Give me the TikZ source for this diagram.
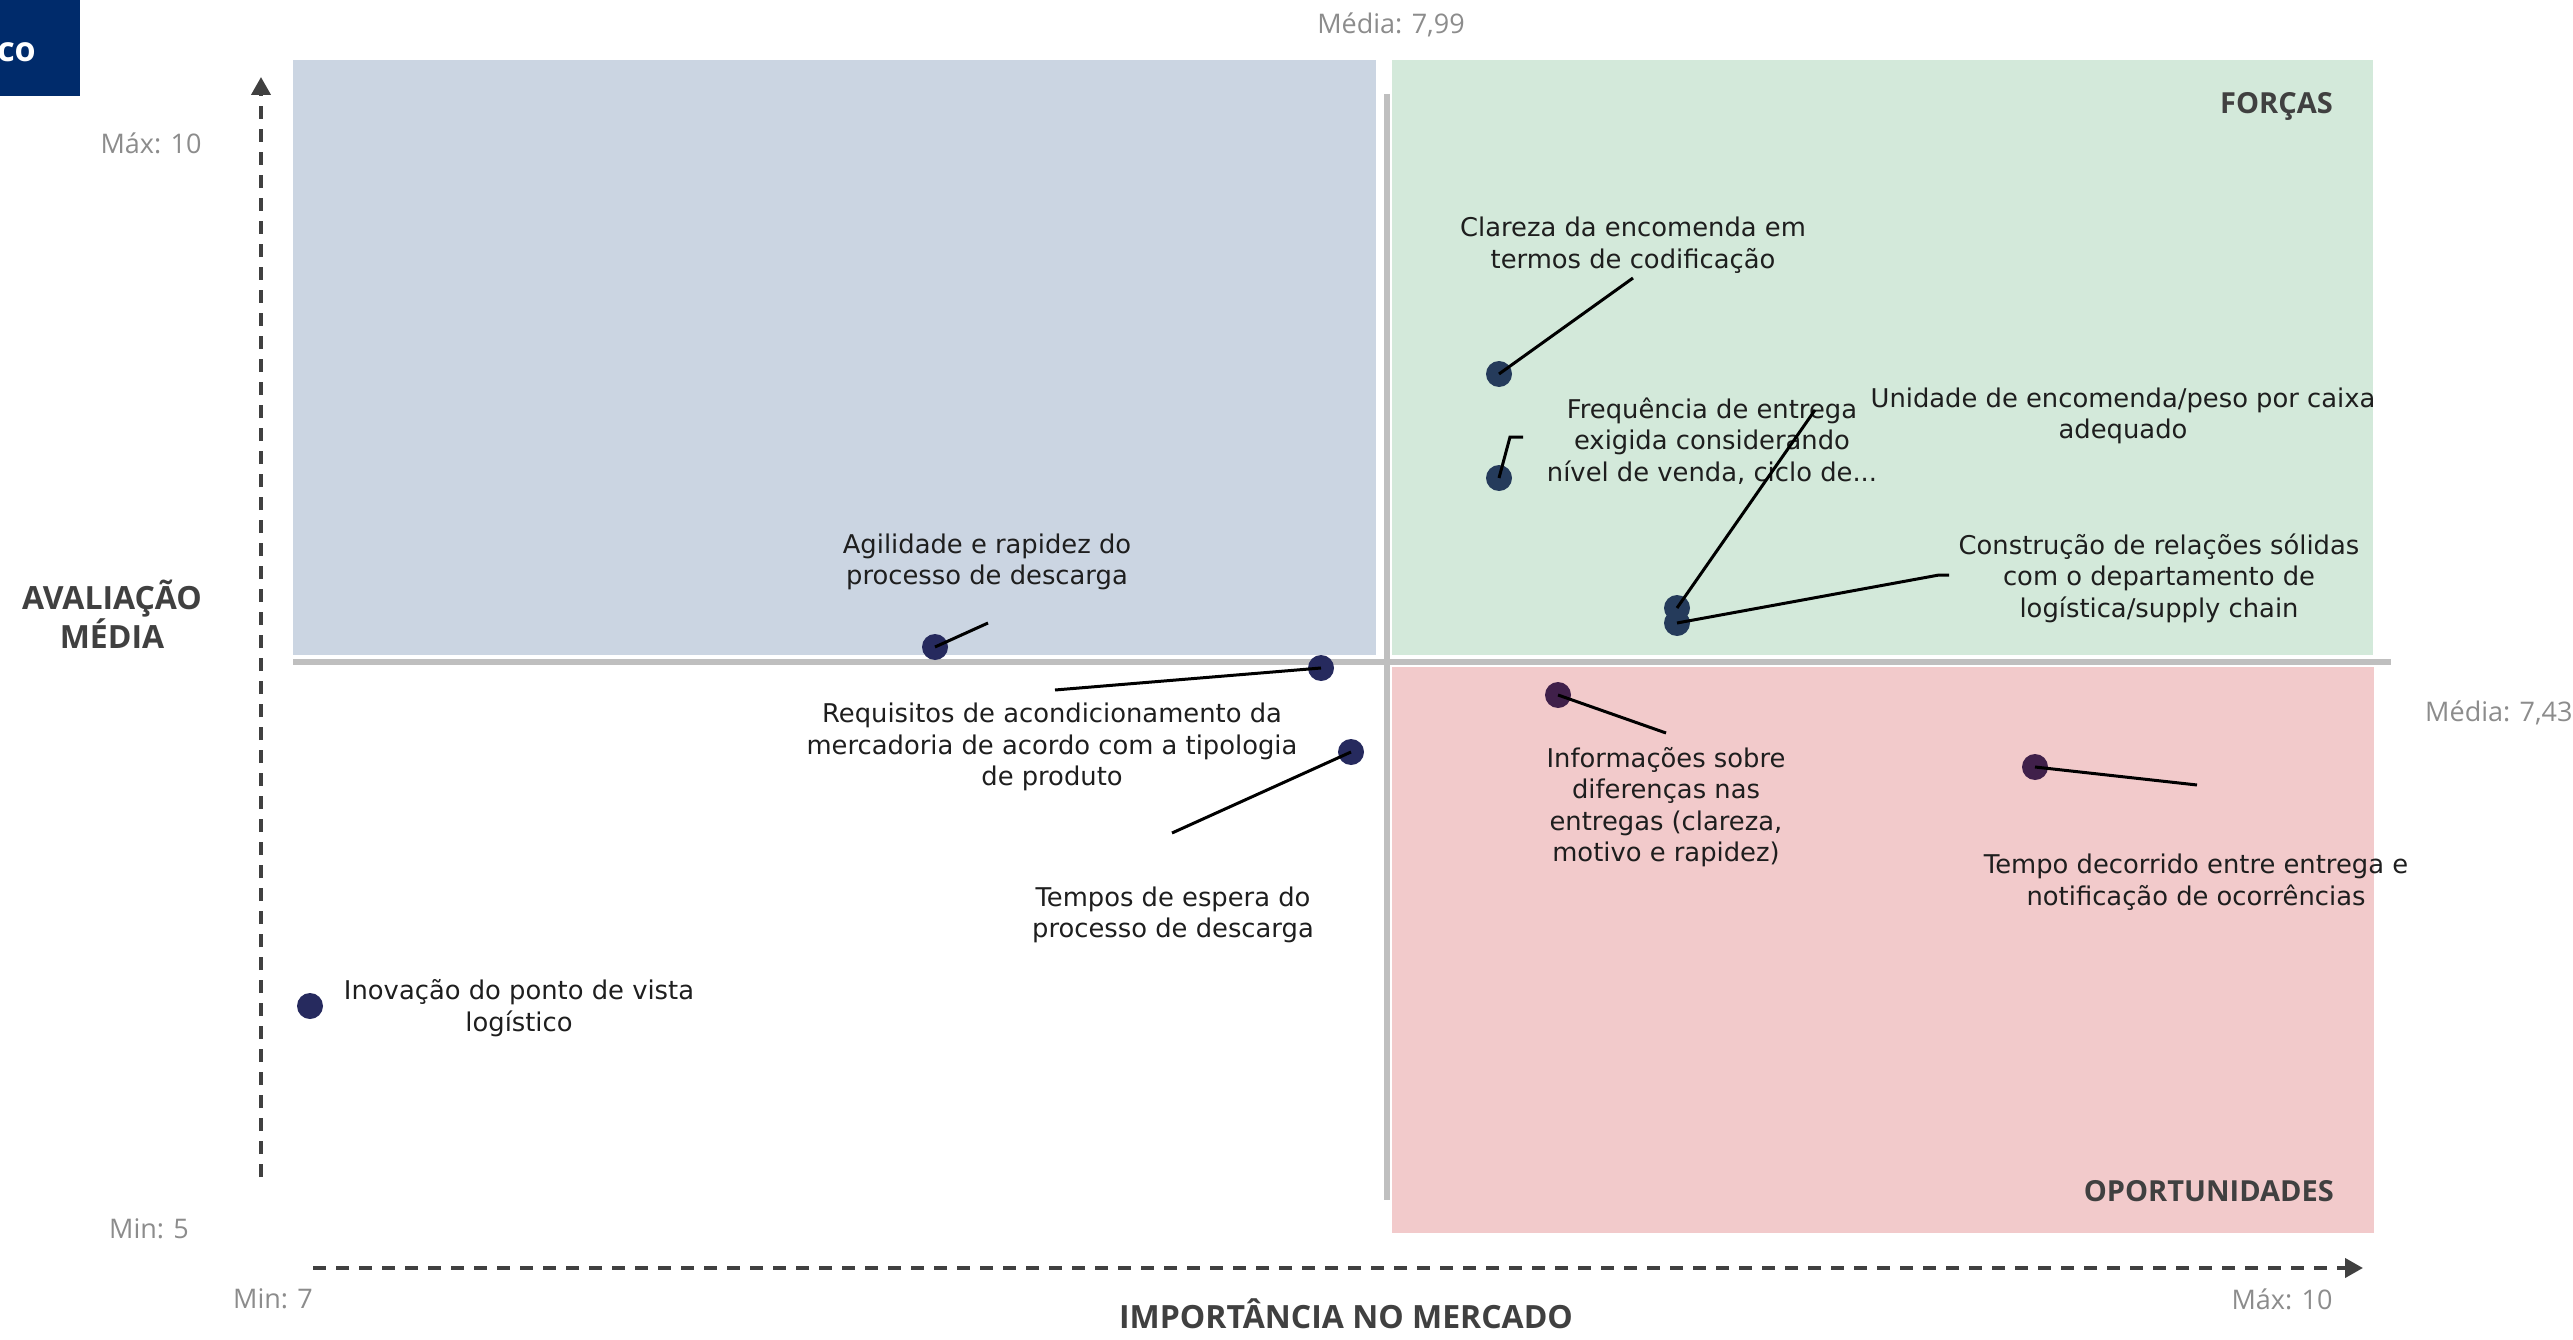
\documentclass[tikz,border=0pt]{standalone}
\usepackage{fontspec}
\setmainfont{DejaVu Sans}
\newfontfamily\osans{Open Sans}
\usetikzlibrary{arrows.meta}
\definecolor{qblue}{HTML}{CBD5E2}
\definecolor{qgreen}{HTML}{D3E9DA}
\definecolor{qred}{HTML}{F2CACB}
\definecolor{gline}{HTML}{BFBFBF}
\definecolor{axisc}{HTML}{404040}
\definecolor{graytxt}{HTML}{8C8C8C}
\definecolor{navybox}{HTML}{002B6B}
\definecolor{dotnavy}{HTML}{262A5E}
\definecolor{dotslate}{HTML}{253B5B}
\definecolor{dotplum}{HTML}{40204A}
\definecolor{lbltxt}{HTML}{1E1E1E}
\tikzset{
  lbl/.style={align=center, inner sep=0pt, text=lbltxt, font=\fontsize{25.8}{31.5}\selectfont},
  numtxt/.style={inner sep=0pt, text=graytxt, font=\osans\fontsize{27}{32}\selectfont},
  ttl/.style={inner sep=0pt, align=center, text=axisc, font=\osans\bfseries\fontsize{32}{39}\selectfont},
  qttl/.style={inner sep=0pt, anchor=east, text=axisc, font=\osans\bfseries\fontsize{29}{34}\selectfont},
  pt/.style={circle, inner sep=0pt, minimum size=26pt},
  leader/.style={draw=black, line width=3pt},
  axisline/.style={draw=axisc, line width=4pt, dash pattern=on 13pt off 10pt, -{Triangle[length=18pt,width=19pt]}},
  midline/.style={draw=gline, line width=6pt}
}
\begin{document}
\begin{tikzpicture}[x=1pt,y=-1pt]
\useasboundingbox (0,0) rectangle (2573,1340);
% quadrants
\fill[qblue] (293,60) rectangle (1376,655);
\fill[qgreen] (1392,60) rectangle (2373,655);
\fill[qred] (1392,667) rectangle (2374,1233);
\draw[midline] (293,662) -- (2391,662);
\draw[midline] (1387,94) -- (1387,1200);
% header box
\fill[navybox] (0,0) rectangle (80,96);
\node[inner sep=0pt, anchor=east, text=white, font=\osans\bfseries\fontsize{34}{40}\selectfont] (hdr) at (36,52) {co};
% axes
\coordinate (ya) at (261,1177);
\coordinate (yb) at (261,77);
\coordinate (xa) at (313,1268);
\coordinate (xb) at (2363,1268);
\draw[axisline] (ya) -- (yb);
\draw[axisline] (xa) -- (xb);
% axis texts
\node[numtxt] (ymax) at (151,143) {Máx: 10};
\node[numtxt] (ymin) at (149,1229) {Min: 5};
\node[numtxt] (xmin) at (273,1299) {Min: 7};
\node[numtxt] (xmax) at (2282,1299) {Máx: 10};
\node[numtxt] (mx) at (1391,25) {Média: 7,99};
\node[numtxt, anchor=west] (my) at (2425,713) {Média: 7,43};
\node[ttl] (xt) at (1346,1314) {IMPORTÂNCIA NO MERCADO};
\node[ttl] (yt) at (112,614) {AVALIAÇÃO\\MÉDIA};
\node[qttl] (forcas) at (2333,106) {FORÇAS};
\node[qttl] (oport) at (2334,1191) {OPORTUNIDADES};
% points
\node[pt, fill=dotslate] (p1) at (1499,374) {};
\node[pt, fill=dotslate] (p2) at (1499,478) {};
\node[pt, fill=dotslate] (p3) at (1677,608) {};
\node[pt, fill=dotslate] (p4) at (1677,623) {};
\node[pt, fill=dotnavy] (p5) at (935,647) {};
\node[pt, fill=dotnavy] (p6) at (1321,668) {};
\node[pt, fill=dotnavy] (p7) at (1351,752) {};
\node[pt, fill=dotnavy] (p8) at (310,1006) {};
\node[pt, fill=dotplum] (p9) at (1558,695) {};
\node[pt, fill=dotplum] (p10) at (2035,767) {};
% labels
\node[lbl] (l1) at (1633,245) {Clareza da encomenda em\\termos de codificação};
\node[lbl] (l2) at (1712,441) {Frequência de entrega\\exigida considerando\\nível de venda, ciclo de...};
\node[lbl] (l3) at (2123,416) {Unidade de encomenda/peso por caixa\\adequado};
\node[lbl] (l4) at (2159,578) {Construção de relações sólidas\\com o departamento de\\logística/supply chain};
\node[lbl] (l5) at (987,562) {Agilidade e rapidez do\\processo de descarga};
\node[lbl] (l6) at (1052,747) {Requisitos de acondicionamento da\\mercadoria de acordo com a tipologia\\de produto};
\node[lbl] (l7) at (1173,915) {Tempos de espera do\\processo de descarga};
\node[lbl] (l8) at (519,1008) {Inovação do ponto de vista\\logístico};
\node[lbl] (l9) at (1666,807) {Informações sobre\\diferenças nas\\entregas (clareza,\\motivo e rapidez)};
\node[lbl] (l10) at (2196,882) {Tempo decorrido entre entrega e\\notificação de ocorrências};
% leader ends
\coordinate (c1) at (1633,278);
\coordinate (c2a) at (1510,437);
\coordinate (c2b) at (1523,437);
\coordinate (c3) at (1815,410);
\coordinate (c4a) at (1939,575);
\coordinate (c4b) at (1949,575);
\coordinate (c5) at (988,623);
\coordinate (c6) at (1055,690);
\coordinate (c7) at (1172,833);
\coordinate (c9) at (1666,733);
\coordinate (c10) at (2197,785);
% leaders
\draw[leader] (p1.center) -- (c1);
\draw[leader] (p2.center) -- (c2a) -- (c2b);
\draw[leader] (p3.center) -- (c3);
\draw[leader] (p4.center) -- (c4a) -- (c4b);
\draw[leader] (p5.center) -- (c5);
\draw[leader] (p6.center) -- (c6);
\draw[leader] (p7.center) -- (c7);
\draw[leader] (p9.center) -- (c9);
\draw[leader] (p10.center) -- (c10);
\end{tikzpicture}
\end{document}
